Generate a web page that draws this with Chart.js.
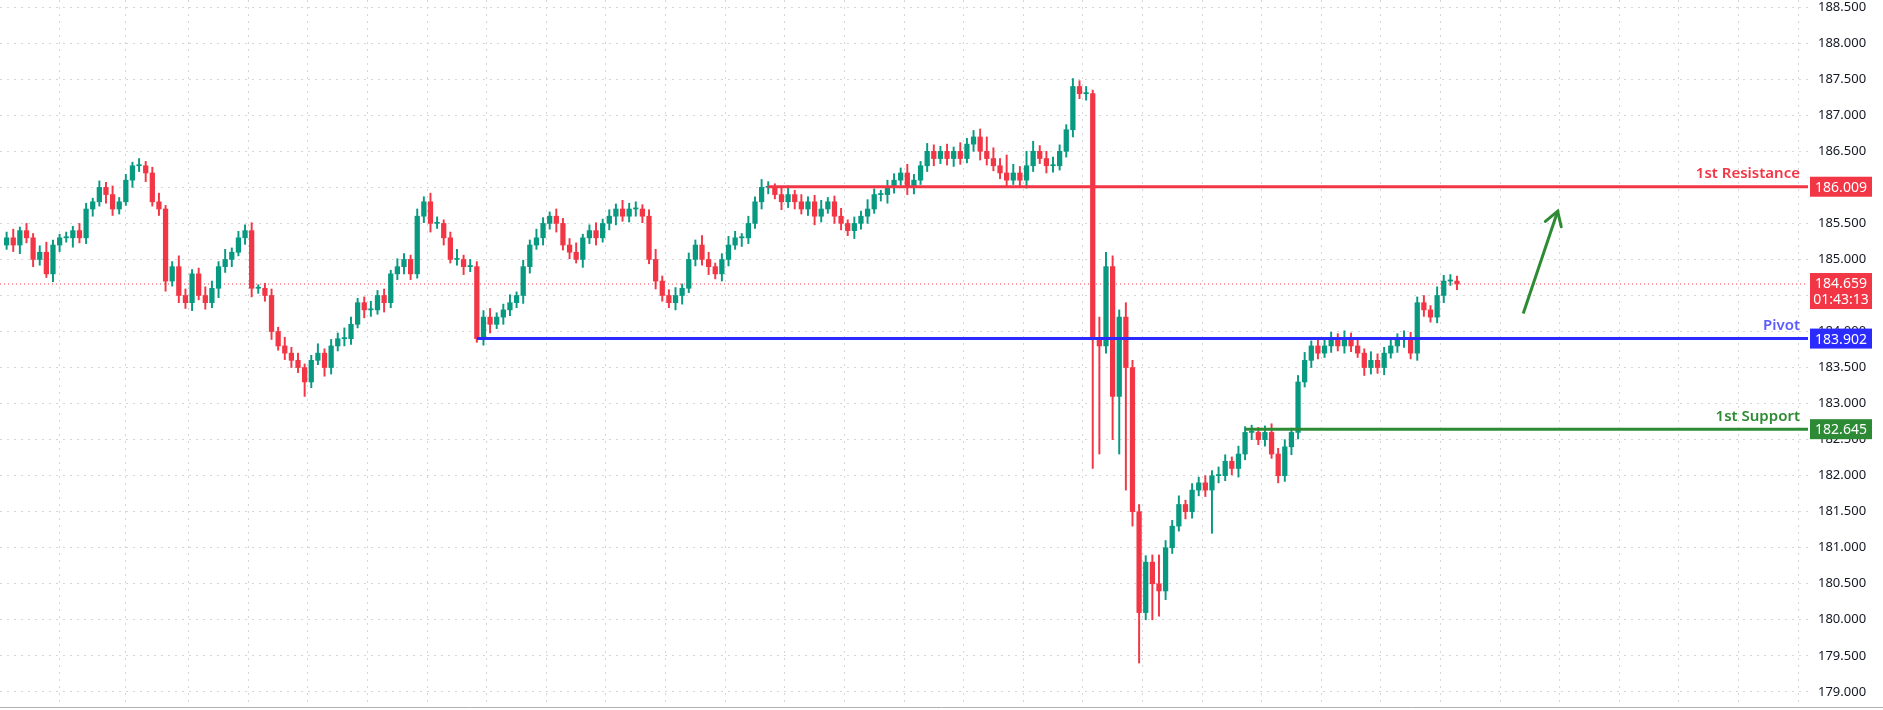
<!DOCTYPE html>
<html><head><meta charset="utf-8">
<script src="https://cdn.jsdelivr.net/npm/chart.js@4.4.1/dist/chart.umd.min.js"></script>
<style>html,body{margin:0;padding:0;background:#fff}#wrap{width:1883px;height:710px}</style>
</head><body><div id="wrap"><canvas id="c"></canvas></div>
<script>
const closes = [
185.3,185.2,185.4,185.3,185.0,185.1,184.8,185.2,185.3,185.3,
185.4,185.3,185.7,185.8,186.0,185.9,185.7,185.8,186.1,186.3,
186.3,186.2,185.8,185.7,184.7,184.9,184.5,184.4,184.8,184.5,
184.4,184.6,184.9,185.0,185.1,185.3,185.4,184.6,184.6,184.5,
184.0,183.8,183.7,183.6,183.5,183.3,183.6,183.7,183.5,183.8,
183.9,183.9,184.1,184.4,184.3,184.3,184.5,184.4,184.8,184.9,
185.0,184.8,185.6,185.8,185.5,185.5,185.3,185.0,185.0,184.9,
184.9,183.9,184.2,184.1,184.2,184.3,184.4,184.5,184.9,185.2,
185.3,185.5,185.6,185.5,185.2,185.1,185.0,185.3,185.4,185.3,
185.5,185.6,185.7,185.6,185.7,185.7,185.6,185.0,184.7,184.5,
184.4,184.5,184.6,185.0,185.2,185.0,184.9,184.8,185.0,185.2,
185.3,185.3,185.5,185.8,186.0,186.0,185.9,185.8,185.9,185.8,
185.7,185.8,185.6,185.7,185.8,185.6,185.5,185.4,185.5,185.6,
185.7,185.9,185.9,186.0,186.1,186.2,186.0,186.1,186.3,186.5,
186.4,186.5,186.4,186.5,186.4,186.6,186.7,186.5,186.4,186.3,
186.2,186.1,186.2,186.1,186.3,186.5,186.4,186.3,186.3,186.5,
186.8,187.4,187.3,187.3,183.9,183.8,184.9,183.1,184.2,183.5,
181.5,180.1,180.8,180.5,180.4,181.0,181.3,181.6,181.5,181.8,
181.9,181.8,182.0,182.0,182.2,182.1,182.3,182.6,182.6,182.5,
182.6,182.3,182.0,182.4,182.6,183.3,183.6,183.8,183.7,183.8,
183.9,183.8,183.9,183.8,183.7,183.5,183.6,183.5,183.7,183.8,
183.9,183.9,183.7,184.4,184.3,184.2,184.5,184.7,184.7,184.659];
const firstOpen = 185.2;
const wickUp = [
8,12,5,10,6,9,14,7,5,8,6,10,8,5,9,7,12,6,8,5,
10,6,8,12,5,7,15,9,6,8,12,10,7,14,6,9,8,11,5,7,
9,6,12,8,10,5,7,13,6,9,8,15,10,6,8,12,7,9,5,11,
8,6,10,7,12,9,5,8,14,6,10,7,9,12,6,8,11,5,9,7,
12,8,6,10,7,9,13,5,8,11,6,9,7,12,8,10,6,9,14,7,
8,11,6,9,7,13,10,5,8,12,9,6,10,7,11,8,5,9,12,6,
10,7,9,12,6,8,11,5,9,7,13,8,6,10,9,7,12,8,6,11,
9,7,10,6,12,8,9,11,20,15,10,25,12,9,20,14,8,10,12,9,
7,11,8,10,6,12,9,7,10,8,13,6,9,11,7,10,8,12,6,9,
8,10,7,12,9,6,11,8,10,7,9,12,8,10,6,9,11,7,8,10,
9,7,11,8,10,6,12,9,8,10,7,11,9,8,10,6,12,8,9,7];
const wickDn = [
6,9,12,7,10,8,5,11,9,6,13,7,8,10,6,12,9,7,5,10,
8,12,6,9,14,7,10,8,11,6,9,7,13,8,10,5,9,12,7,8,
11,6,9,10,7,20,8,6,12,9,7,10,8,5,11,9,6,13,7,8,
10,8,6,9,12,7,10,5,8,11,7,5,9,12,6,10,8,7,11,9,
6,10,8,12,7,9,5,11,8,10,6,9,12,7,8,10,9,6,11,8,
7,10,12,6,9,8,11,7,10,9,6,12,8,7,10,9,6,11,8,10,
7,9,12,8,6,10,9,7,11,8,10,6,9,12,8,7,10,9,6,8,
10,7,9,11,8,6,10,12,9,7,8,10,6,9,11,8,7,10,9,6,
8,10,7,9,12,6,10,8,9,7,11,8,10,6,9,12,8,7,10,9,
8,9,60,10,7,9,12,8,10,7,9,6,10,8,11,9,7,10,8,6,
9,7,10,8,6,11,9,8,10,7,9,12,8,10,9,7,8,10,6,8];
const wickOverride = {164:[187.35,182.1],165:[184.2,182.3],166:[185.1,183.7],167:[185.05,182.5],168:[184.3,182.3],169:[184.4,181.8],170:[183.6,181.3],171:[181.6,179.4],173:[180.9,180.0],174:[180.9,180.05]};
const yTicks = [179.0,179.5,180.0,180.5,181.0,181.5,182.0,182.5,183.0,183.5,184.0,184.5,185.0,185.5,186.0,186.5,187.0,187.5,188.0,188.5];
const gridX = [3,13,23,32,41,50,59,68,77,86,95,104,113,122,131,140,149,158,167,176,185,194,203,212,221,230,239,248,257,266];
const levels = [
  {name:'1st Resistance', value:186.009, start:115, color:'#F23645'},
  {name:'Pivot', value:183.902, start:71, color:'#2B2BFF'},
  {name:'1st Support', value:182.645, start:187, color:'#2E8B35'}];
const lastPrice = 184.659, countdown = '01:43:13';
const arrowPts = [{x:229,y:184.25},{x:234.2,y:185.67}];
const X_MAX = 272;

const opens = closes.map((c,i)=> i===0 ? firstOpen : closes[i-1]);
const bodies=[], wicks=[], cols=[];
closes.forEach((c,i)=>{
  const o=opens[i];
  let hi=Math.max(o,c)+wickUp[i]/100, lo=Math.min(o,c)-wickDn[i]/100;
  if(wickOverride[i]){hi=wickOverride[i][0];lo=wickOverride[i][1];}
  let b0=o,b1=c; if(Math.abs(b1-b0)<0.015){b1=b0+0.015;}
  bodies.push({x:i,y:[b0,b1]}); wicks.push({x:i,y:[lo,hi]});
  cols.push(c>=o?'#089981':'#F23645');
});
const levelSets = levels.map(l=>({type:'line',data:[{x:l.start,y:l.value},{x:X_MAX,y:l.value}],borderColor:l.color,borderWidth:3,pointRadius:0,order:0}));

const overlay = {
  id:'overlay',
  afterDatasetsDraw(chart){
    const {ctx, scales:{x,y}, chartArea:ca} = chart;
    ctx.save();
    ctx.font='13px "Noto Sans", sans-serif';ctx.fillStyle='#131722';ctx.textAlign='left';ctx.textBaseline='middle';
    yTicks.forEach(v=>{ctx.fillText(v.toFixed(3),ca.right+10,y.getPixelForValue(v));});
    const p1={x:x.getPixelForValue(arrowPts[0].x),y:y.getPixelForValue(arrowPts[0].y)};
    const p2={x:x.getPixelForValue(arrowPts[1].x),y:y.getPixelForValue(arrowPts[1].y)};
    const ang=Math.atan2(p2.y-p1.y,p2.x-p1.x);
    ctx.strokeStyle='#2E8B35';ctx.lineWidth=3;ctx.lineCap='round';
    ctx.beginPath();
    ctx.moveTo(p2.x-16*Math.cos(ang-0.55),p2.y-16*Math.sin(ang-0.55));
    ctx.lineTo(p2.x,p2.y);
    ctx.lineTo(p2.x-16*Math.cos(ang+0.55),p2.y-16*Math.sin(ang+0.55));
    ctx.stroke();
    ctx.font='600 15px "Noto Sans", sans-serif';ctx.textAlign='right';ctx.textBaseline='bottom';
    levels.forEach(l=>{ctx.fillStyle=l.color==='#2B2BFF'?'#5B5BFF':l.color;ctx.fillText(l.name,ca.right-8,y.getPixelForValue(l.value)-5);});
    ctx.font='14px "Noto Sans", sans-serif';ctx.textAlign='center';ctx.textBaseline='middle';
    const tx=ca.right+2, tw=62, cx=tx+tw/2;
    levels.forEach(l=>{const py=y.getPixelForValue(l.value);ctx.fillStyle=l.color;ctx.fillRect(tx,py-10,tw,20);ctx.fillStyle='#fff';ctx.fillText(l.value.toFixed(3),cx,py+1);});
    const py=y.getPixelForValue(lastPrice);
    ctx.fillStyle='#F23645';ctx.fillRect(tx,py-11,tw,36);ctx.fillStyle='#fff';
    ctx.fillText(lastPrice.toFixed(3),cx,py);ctx.fillText(countdown,cx,py+16);
    ctx.restore();
  },
  beforeDatasetsDraw(chart){
    const {ctx, scales:{y}, chartArea:ca} = chart;
    const py=y.getPixelForValue(lastPrice);
    ctx.save();ctx.strokeStyle='#F23645';ctx.lineWidth=1;ctx.setLineDash([1,3]);
    ctx.beginPath();ctx.moveTo(ca.left,py);ctx.lineTo(ca.right,py);ctx.stroke();ctx.restore();
  }
};

new Chart(document.getElementById('c'),{
  data:{datasets:[
    ...levelSets,
    {type:'line',data:arrowPts,borderColor:'#2E8B35',borderWidth:3,pointRadius:0,order:0},
    {type:'bar',data:wicks,backgroundColor:cols,barThickness:1.3,grouped:false,order:2},
    {type:'bar',data:bodies,backgroundColor:cols,barThickness:4.6,grouped:false,order:1,minBarLength:1}
  ]},
  options:{
    responsive:true,maintainAspectRatio:false,animation:false,
    layout:{padding:{left:0,right:0,top:0,bottom:3}},
    plugins:{legend:{display:false},tooltip:{enabled:false}},
    scales:{
      x:{type:'linear',min:-1,max:X_MAX,offset:false,
        afterBuildTicks(s){s.ticks=gridX.map(v=>({value:v}));},
        ticks:{display:false},
        grid:{color:'#d6d6d6',drawTicks:false,lineWidth:1},border:{display:false,dash:[2,5]}},
      y:{position:'right',min:178.79,max:188.60,
        afterBuildTicks(s){s.ticks=yTicks.map(v=>({value:v}));},
        afterFit(s){s.width=75;},
        ticks:{display:false},
        grid:{color:'#d6d6d6',drawTicks:false},border:{display:false,dash:[2,5]}}
    }
  },
  plugins:[overlay,{id:'frame',afterDraw(chart){
    const {ctx,chartArea:ca}=chart;ctx.save();ctx.strokeStyle='#b0b0b0';ctx.lineWidth=1;
    ctx.beginPath();ctx.moveTo(0,ca.bottom+0.5);ctx.lineTo(chart.width,ca.bottom+0.5);ctx.stroke();ctx.restore();}}]
});
</script></body></html>
